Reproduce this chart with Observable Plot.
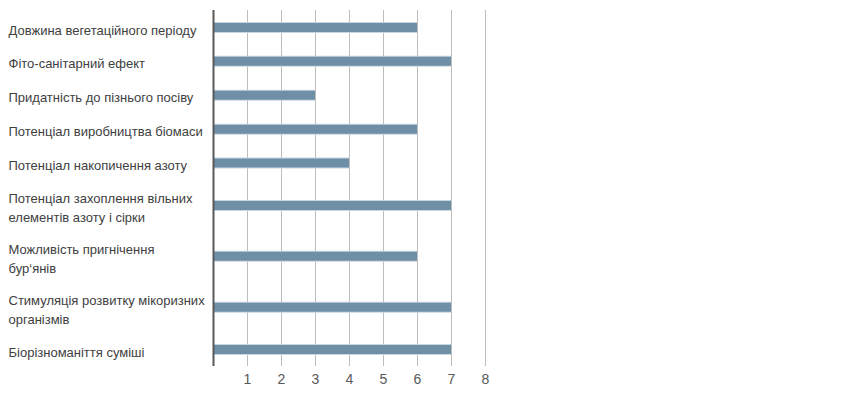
<!DOCTYPE html>
<html>
<head>
<meta charset="utf-8">
<script src="https://cdn.jsdelivr.net/npm/d3@7"></script>
<script src="https://cdn.jsdelivr.net/npm/@observablehq/plot@0.6"></script>
<style>
  html, body { margin: 0; padding: 0; background: #fff; }
  #chart { width: 850px; height: 400px; }
</style>
</head>
<body>
<div id="chart"></div>
<script>
const categories = [
  "Довжина вегетаційного періоду",
  "Фіто-санітарний ефект",
  "Придатність до пізнього посіву",
  "Потенціал виробництва біомаси",
  "Потенціал накопичення азоту",
  "Потенціал захоплення вільних\nелементів азоту і сірки",
  "Можливість пригнічення\nбур‘янів",
  "Стимуляція розвитку мікоризних\nорганізмів",
  "Біорізноманіття суміші"
];
const values = [6, 7, 3, 6, 4, 7, 6, 7, 7];
const xTicks = [1, 2, 3, 4, 5, 6, 7, 8];

// row slots: single-line labels take 1 unit, two-line labels 1.5 units
let acc = 0;
const data = categories.map((label, i) => {
  const units = label.split("\n").length > 1 ? 1.5 : 1;
  const row = {label, value: values[i], center: acc + units / 2};
  acc += units;
  return row;
});
const total = acc;

const font = "'Liberation Sans', Arial, sans-serif";

const chart = Plot.plot({
  width: 850,
  height: 400,
  marginLeft: 213,
  marginRight: 365,
  marginTop: 10,
  marginBottom: 34,
  style: {fontFamily: font, fontSize: "14px", background: "#fff"},
  x: {domain: [0, 8], ticks: xTicks, tickSize: 0, tickPadding: 8, label: null},
  y: {domain: [0, total], reverse: true, axis: null},
  marks: [
    Plot.ruleX(xTicks, {stroke: "#bdbdbd", strokeWidth: 1, strokeOpacity: 1}),
    Plot.ruleY(data, {y: "center", x1: 0, x2: "value", stroke: "#c9d6e0", strokeWidth: 11}),
    Plot.ruleY(data, {y: "center", x1: 0, x2: "value", stroke: "#6f8fa7", strokeWidth: 9}),
    Plot.ruleX([0], {stroke: "#595959", strokeWidth: 2}),
    Plot.text(data, {
      y: "center",
      text: "label",
      frameAnchor: "left",
      dx: -205,
      dy: 1,
      textAnchor: "start",
      lineAnchor: "middle",
      lineHeight: 1.46,
      fill: "#404040",
      fontSize: 13
    }),
    Plot.axisX({ticks: xTicks, tickSize: 0, tickPadding: 8, fill: "#595959", fontSize: 14, label: null})
  ]
});
document.getElementById("chart").appendChild(chart);
</script>
</body>
</html>
